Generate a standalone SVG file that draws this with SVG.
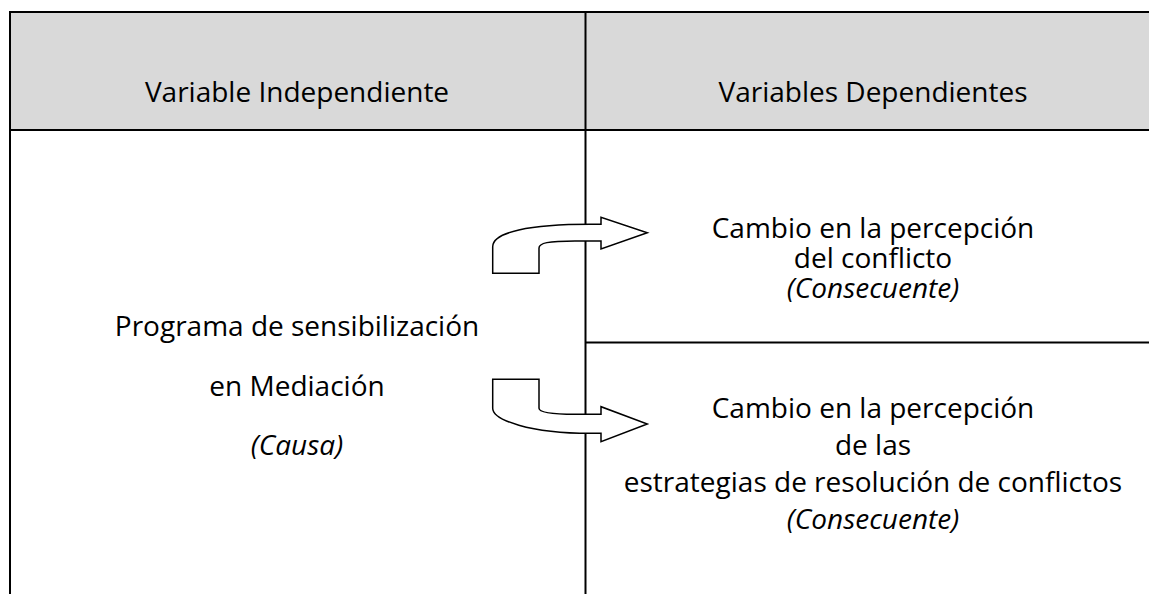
<svg xmlns="http://www.w3.org/2000/svg" width="1149" height="594" viewBox="0 0 1149 594">
  <style>
    .t { font-family: "Open Sans", "DejaVu Sans", sans-serif; font-size: 28px; fill: #000; text-anchor: middle; }
    .i { font-style: italic; }
    .rule { stroke: #000; stroke-width: 2; fill: none; }
    .arrow { fill: #fff; stroke: #000; stroke-width: 1.5; stroke-linejoin: miter; }
  </style>
  <g id="header">
    <rect x="10" y="12" width="1139" height="118" fill="#d9d9d9"/>
    <text class="t" x="297" y="102">Variable Independiente</text>
    <text class="t" x="873" y="102">Variables Dependientes</text>
  </g>
  <g id="grid">
    <line class="rule" x1="9" y1="12" x2="1149" y2="12"/>
    <line class="rule" x1="9" y1="130" x2="1149" y2="130"/>
    <line class="rule" x1="10" y1="11" x2="10" y2="594"/>
    <line class="rule" x1="585.5" y1="11" x2="585.5" y2="594"/>
    <line class="rule" x1="585.5" y1="342.5" x2="1149" y2="342.5"/>
  </g>
  <g id="cause">
    <text class="t" x="297" y="336">Programa de sensibilización</text>
    <text class="t" x="297" y="396">en Mediación</text>
    <text class="t i" x="297" y="455">(Causa)</text>
  </g>
  <g id="effect1">
    <text class="t" x="873" y="238">Cambio en la percepción</text>
    <text class="t" x="873" y="268">del conflicto</text>
    <text class="t i" x="873" y="298">(Consecuente)</text>
  </g>
  <g id="effect2">
    <text class="t" x="873" y="418">Cambio en la percepción</text>
    <text class="t" x="873" y="455">de las</text>
    <text class="t" x="873" y="492">estrategias de resolución de conflictos</text>
    <text class="t i" x="873" y="529">(Consecuente)</text>
  </g>
  <g id="connectors">
    <path class="arrow" d="M492.7,273.3 L492.7,246.7 C492.7,232 530,224.3 590,224.3 L601,224.3 L601,217.3 L647.3,232.7 L601,249 L601,241 L575,241 C548,241 539,243 539,248 L539,273.3 Z"/>
    <path class="arrow" d="M492.7,379.3 L539,379.3 L539,408.3 C539,412 548,414.3 575,414.3 L601,414.3 L601,406.7 L647.3,424 L601,441.7 L601,433.3 L590,433.3 C530,433.3 492.7,420 492.7,408.3 Z"/>
  </g>
</svg>
